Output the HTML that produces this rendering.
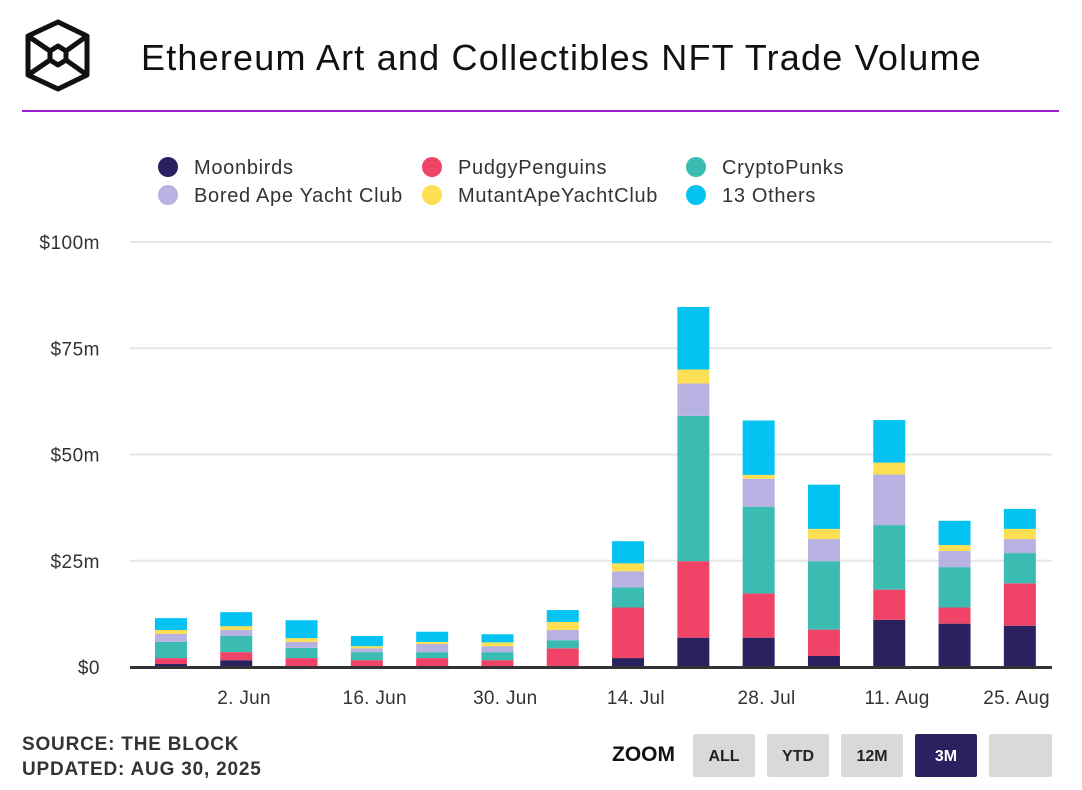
<!DOCTYPE html>
<html><head><meta charset="utf-8"><style>
body{margin:0;width:1082px;height:790px;background:#fff;font-family:"Liberation Sans",sans-serif;overflow:hidden;position:relative}
.t{position:absolute;white-space:nowrap}
.btn{position:absolute;top:734px;width:62px;height:43px;background:#d9d9d9;border-radius:2px;font-weight:bold;font-size:16px;color:#222;text-align:center;line-height:46px}
</style></head><body>
<svg style="position:absolute;left:0;top:0" width="120" height="110">
<g fill="none" stroke="#111" stroke-width="5" stroke-linejoin="round">
<polygon points="58,22 87,36 87,75 58,89 28,75 28,36"/>
<polygon points="58,46 66,51 66,60 58,65 50,60 50,51"/>
<line x1="28" y1="36" x2="50" y2="51"/><line x1="87" y1="36" x2="66" y2="51"/>
<line x1="28" y1="75" x2="50" y2="60"/><line x1="87" y1="75" x2="66" y2="60"/>
</g></svg>
<div class="t" style="left:141px;top:37px;font-size:36px;letter-spacing:1.2px;color:#111">Ethereum Art and Collectibles NFT Trade Volume</div>
<div style="position:absolute;left:22px;top:110px;width:1037px;height:2px;background:#9b1fd1"></div>
<svg id="chart" style="position:absolute;left:0;top:0" width="1082" height="790"></svg>
<div class="t" style="left:22px;top:734px;font-size:19px;letter-spacing:0.8px;font-weight:bold;color:#333">SOURCE: THE BLOCK</div>
<div class="t" style="left:22px;top:759px;font-size:19px;letter-spacing:0.8px;font-weight:bold;color:#333">UPDATED: AUG 30, 2025</div>
<div class="t" style="left:612px;top:743px;font-size:21px;font-weight:bold;color:#111">ZOOM</div>
<div class="btn" style="left:693px">ALL</div>
<div class="btn" style="left:767px">YTD</div>
<div class="btn" style="left:841px">12M</div>
<div class="btn" style="left:915px;background:#2a2160;color:#fff">3M</div>
<div class="btn" style="left:989px;width:63px"></div>
<script>
const seriesNames=["Moonbirds","PudgyPenguins","CryptoPunks","Bored Ape Yacht Club","MutantApeYachtClub","13 Others"];
const colors=["#2a2160","#ef4467","#3bbcb2","#b7b2e1","#fcdf52","#04c3f3"];
const moonbirds=[0.7,1.6,0.2,0.2,0.2,0.2,0.2,2.1,6.9,6.9,2.6,11.1,10.2,9.7];
const pudgy=[1.4,1.9,1.9,1.4,1.9,1.4,4.2,11.9,18.0,10.4,6.2,7.1,3.8,10.0];
const punks=[3.8,3.8,2.4,1.9,1.4,1.9,1.9,4.7,34.2,20.4,16.1,15.2,9.5,7.1];
const bored=[1.9,1.4,1.4,0.9,1.9,1.4,2.4,3.8,7.6,6.6,5.2,11.9,3.8,3.3];
const mutant=[0.9,0.9,0.9,0.5,0.5,0.9,1.9,1.9,3.3,0.9,2.4,2.8,1.4,2.4];
const others=[2.8,3.3,4.2,2.4,2.4,1.9,2.8,5.2,14.7,12.8,10.4,10.0,5.7,4.7];
const yTicks=[0,25,50,75,100];
const yTickLabels=["$0","$25m","$50m","$75m","$100m"];
const xLabels=["2. Jun","16. Jun","30. Jun","14. Jul","28. Jul","11. Aug","25. Aug"];
const xLabelIdx=[1.12,3.12,5.12,7.12,9.12,11.12,12.95];
const NS="http://www.w3.org/2000/svg";
const svg=document.getElementById('chart');
const L=138.3,band=65.3,bw=32,y0=667,ppu=4.25;
const y=v=>y0-v*ppu, xc=i=>L+band*(i+0.5);
function mk(t,a){const e=document.createElementNS(NS,t);for(const k in a)e.setAttribute(k,a[k]);svg.appendChild(e);return e;}
yTicks.forEach((v,i)=>{
 if(v>0){const g=mk('line',{x1:130,x2:1052,y1:y(v),y2:y(v),stroke:'#e6e6e6','stroke-width':2});
 
 }
 const t=mk('text',{x:100,y:y(v)+7,'text-anchor':'end','font-size':19,'letter-spacing':0.5,fill:'#333','font-family':'Liberation Sans, sans-serif'});
 t.textContent=yTickLabels[i];
 
 
});
const all=[moonbirds,pudgy,punks,bored,mutant,others];
for(let i=0;i<moonbirds.length;i++){
 let acc=0;
 all.forEach((s,k)=>{
  const r=mk('rect',{x:xc(i)-bw/2,y:y(acc+s[i]),width:bw,height:s[i]*ppu,fill:colors[k]});
  
  
  acc+=s[i];
 });
}
const base=mk('line',{x1:130,x2:1052,y1:y0+0.5,y2:y0+0.5,stroke:'#333','stroke-width':3});


xLabels.forEach((s,i)=>{
 const t=mk('text',{x:xc(xLabelIdx[i]),y:704,'text-anchor':'middle','font-size':19,'letter-spacing':0.3,fill:'#333','font-family':'Liberation Sans, sans-serif'});
 t.textContent=s;
 
 
});
const lx=[168,432,696],ly=[167,195];
seriesNames.forEach((n,k)=>{
 const col=k%3,row=Math.floor(k/3);
 const c=mk('circle',{cx:lx[col],cy:ly[row],r:10,fill:colors[k]});
 
 
 const t=mk('text',{x:lx[col]+26,y:ly[row]+7,'font-size':20,'letter-spacing':0.7,fill:'#333','font-family':'Liberation Sans, sans-serif'});
 t.textContent=n;
 
 
});
</script>
</body></html>
